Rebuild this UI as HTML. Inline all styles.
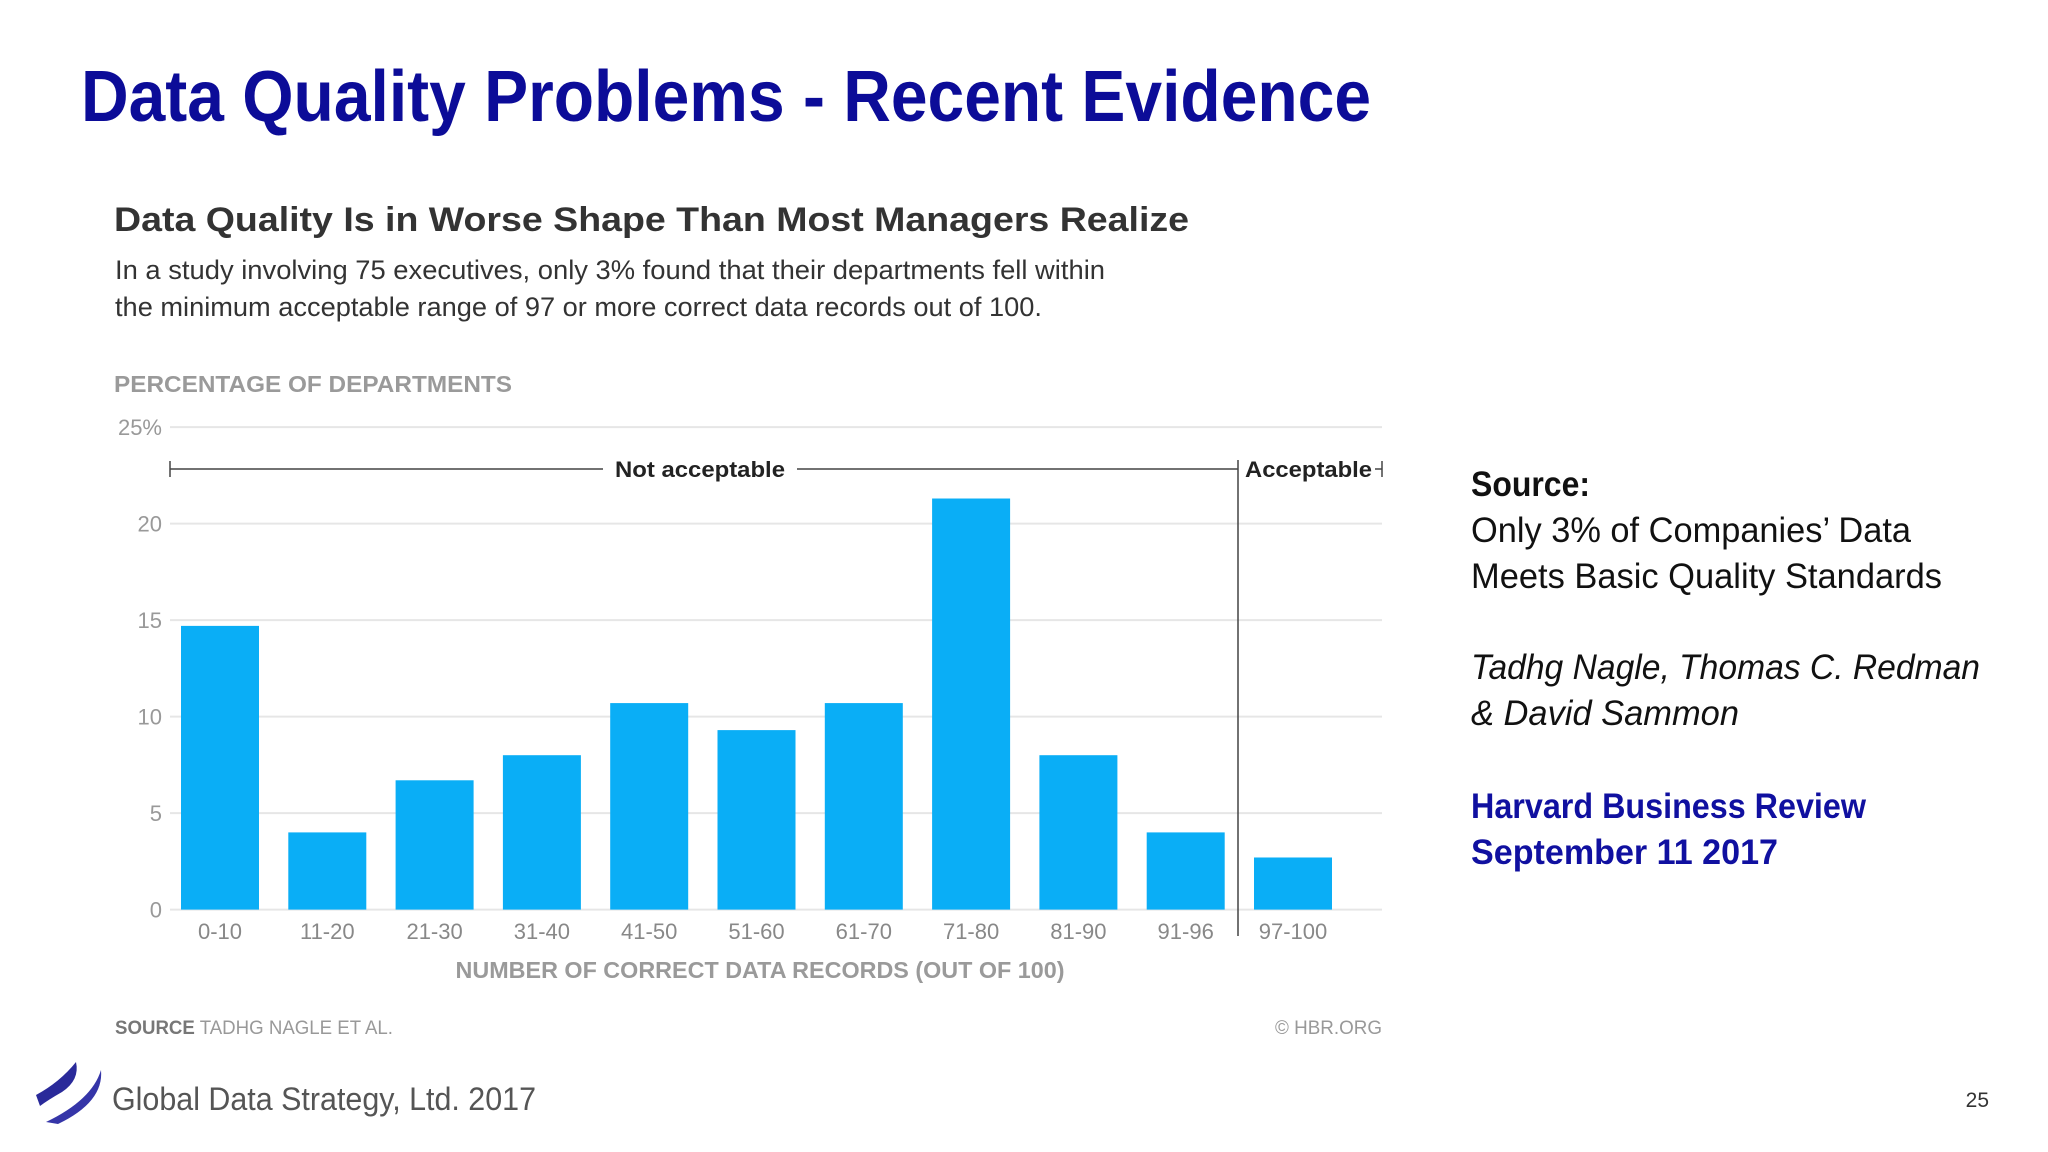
<!DOCTYPE html>
<html><head><meta charset="utf-8"><style>
html,body{margin:0;padding:0;background:#fff;}
svg{display:block;font-family:"Liberation Sans",sans-serif;}
</style></head><body>
<svg id="s" width="2048" height="1152" viewBox="0 0 2048 1152">
<text x="81" y="121" font-size="72" font-weight="bold" fill="#0c0c98" textLength="1290" lengthAdjust="spacingAndGlyphs">Data Quality Problems - Recent Evidence</text>
<text x="114" y="231" font-size="34" font-weight="bold" fill="#333" textLength="1075" lengthAdjust="spacingAndGlyphs">Data Quality Is in Worse Shape Than Most Managers Realize</text>
<text x="115" y="279" font-size="27" fill="#333" textLength="990" lengthAdjust="spacingAndGlyphs">In a study involving 75 executives, only 3% found that their departments fell within</text>
<text x="115" y="316" font-size="27" fill="#333" textLength="927" lengthAdjust="spacingAndGlyphs">the minimum acceptable range of 97 or more correct data records out of 100.</text>
<text x="114" y="392" font-size="23" font-weight="bold" fill="#9a9a9a" textLength="398" lengthAdjust="spacingAndGlyphs">PERCENTAGE OF DEPARTMENTS</text>
<g id="grid"></g>
<g id="bars"></g>
<g id="xl"></g>
<g stroke="#444" stroke-width="1.5">
<line x1="170" y1="469" x2="603" y2="469"/><line x1="170" y1="461" x2="170" y2="477"/>
<line x1="797" y1="469" x2="1238" y2="469"/>
<line x1="1238" y1="460" x2="1238" y2="936"/>
<line x1="1375" y1="469" x2="1382" y2="469"/><line x1="1382" y1="461" x2="1382" y2="477"/>
</g>
<text x="700" y="477" font-size="22" font-weight="bold" fill="#222" text-anchor="middle" textLength="170" lengthAdjust="spacingAndGlyphs">Not acceptable</text>
<text x="1245" y="477" font-size="22" font-weight="bold" fill="#222" textLength="127" lengthAdjust="spacingAndGlyphs">Acceptable</text>
<text x="760" y="978" font-size="23" font-weight="bold" fill="#9a9a9a" text-anchor="middle" textLength="609" lengthAdjust="spacingAndGlyphs">NUMBER OF CORRECT DATA RECORDS (OUT OF 100)</text>
<text x="115" y="1034" font-size="19" fill="#999" textLength="278" lengthAdjust="spacingAndGlyphs"><tspan font-weight="bold" fill="#777">SOURCE</tspan> TADHG NAGLE ET AL.</text>
<text x="1382" y="1034" font-size="19" fill="#999" text-anchor="end" textLength="107" lengthAdjust="spacingAndGlyphs">© HBR.ORG</text>
<g font-size="35" fill="#111">
<text x="1471" y="496" font-weight="bold" textLength="119" lengthAdjust="spacingAndGlyphs">Source:</text>
<text x="1471" y="542" textLength="440" lengthAdjust="spacingAndGlyphs">Only 3% of Companies’ Data</text>
<text x="1471" y="588" textLength="471" lengthAdjust="spacingAndGlyphs">Meets Basic Quality Standards</text>
<text x="1471" y="679" font-style="italic" textLength="509" lengthAdjust="spacingAndGlyphs">Tadhg Nagle, Thomas C. Redman</text>
<text x="1471" y="725" font-style="italic" textLength="268" lengthAdjust="spacingAndGlyphs">&amp; David Sammon</text>
<text x="1471" y="818" font-weight="bold" fill="#1010a0" textLength="395" lengthAdjust="spacingAndGlyphs">Harvard Business Review</text>
<text x="1471" y="864" font-weight="bold" fill="#1010a0" textLength="307" lengthAdjust="spacingAndGlyphs">September 11 2017</text>
</g>
<g>
<path d="M36 1095 Q60 1082 76 1062 Q80 1080 62 1092 Q48 1100 40 1106 Z" fill="#2a2a9a"/>
<path d="M46 1122 Q92 1100 101 1070 Q104 1102 58 1124 Z" fill="#3535a8"/>
</g>
<text x="112" y="1110" font-size="32" fill="#555" textLength="424" lengthAdjust="spacingAndGlyphs">Global Data Strategy, Ltd. 2017</text>
<text x="1989" y="1107" font-size="21" fill="#333" text-anchor="end">25</text>
</svg>
<script>
const categories=["0-10","11-20","21-30","31-40","41-50","51-60","61-70","71-80","81-90","91-96","97-100"];
const values=[14.7,4.0,6.7,8.0,10.7,9.3,10.7,21.3,8.0,4.0,2.7];
const yTicks=[0,5,10,15,20,25];
const yTickLabels=["0","5","10","15","20","25%"];
const NS="http://www.w3.org/2000/svg";
function y(v){return 909.6-v*19.3;}
function xc(i){return 220+i*107.3;}
const grid=document.getElementById('grid'),bars=document.getElementById('bars'),xl=document.getElementById('xl');
yTicks.forEach((t,i)=>{
 const l=document.createElementNS(NS,'line');
 
 
 l.setAttribute('x1',170);l.setAttribute('x2',1382);l.setAttribute('y1',y(t));l.setAttribute('y2',y(t));
 l.setAttribute('stroke','#e6e6e6');l.setAttribute('stroke-width','2');grid.appendChild(l);
 const tx=document.createElementNS(NS,'text');
 
 
 tx.setAttribute('x',162);tx.setAttribute('y',y(t)+8);tx.setAttribute('text-anchor','end');
 tx.setAttribute('font-size','22');tx.setAttribute('fill','#999');tx.textContent=yTickLabels[i];grid.appendChild(tx);
});
categories.forEach((c,i)=>{
 const r=document.createElementNS(NS,'rect');
 
 
 r.setAttribute('x',xc(i)-39);r.setAttribute('width',78);r.setAttribute('y',y(values[i]));r.setAttribute('height',y(0)-y(values[i]));
 r.setAttribute('fill','#0aaef6');bars.appendChild(r);
 const t=document.createElementNS(NS,'text');
 
 
 t.setAttribute('x',xc(i));t.setAttribute('y',939);t.setAttribute('text-anchor','middle');
 t.setAttribute('font-size','22');t.setAttribute('fill','#888');t.textContent=c;xl.appendChild(t);
});
</script>
</body></html>
